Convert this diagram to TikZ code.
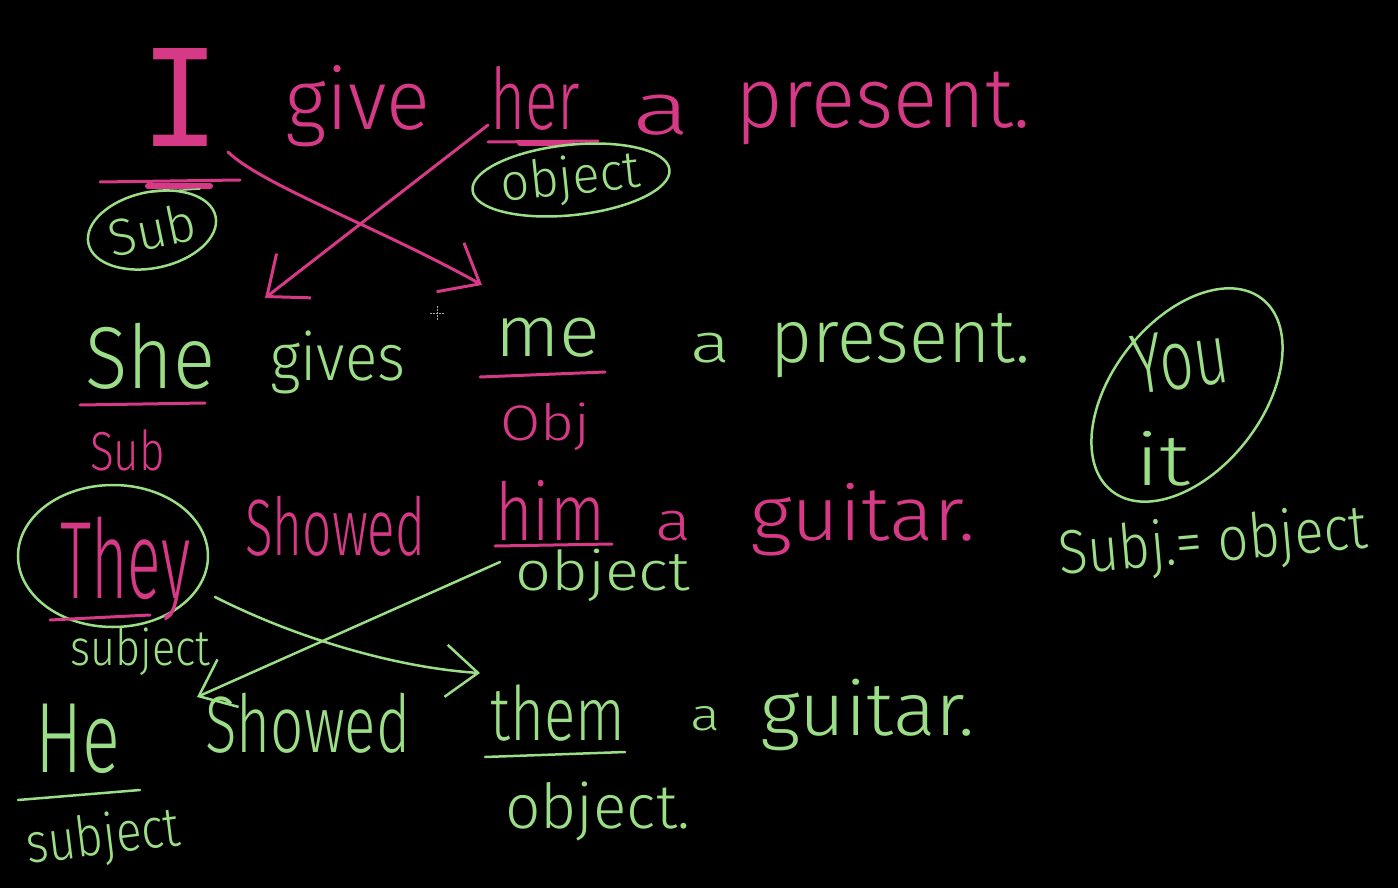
\documentclass[tikz,border=0pt]{standalone}
\usepackage{fontspec}
\setmainfont{Fira Sans Light}
\newfontfamily\monoI{Liberation Mono}
\usepackage{graphicx}
\usetikzlibrary{arrows.meta,shapes.geometric}
\definecolor{pinkc}{RGB}{214,58,134}
\definecolor{greenc}{RGB}{155,222,135}
\newcommand\hw[2]{\resizebox{#1pt}{\height}{#2}}
\begin{document}
\begin{tikzpicture}[x=1pt,y=-1pt,
  pk/.style={text=pinkc,inner sep=0pt,anchor=base west},
  gr/.style={text=greenc,inner sep=0pt,anchor=base west},
  sz/.style={font=\fontsize{#1}{#1}\selectfont},
  pline/.style={draw=pinkc,line width=3pt,line cap=round},
  gline/.style={draw=greenc,line width=2.5pt,line cap=round},
  ring/.style={ellipse,draw=greenc,line width=2.5pt,inner sep=0pt},
  ptip/.style={-{Straight Barb[length=34pt,width=56pt,line width=3pt]}},
  gtip/.style={-{Straight Barb[length=32pt,width=52pt,line width=2.5pt]}}
]
\fill[black] (0,0) rectangle (1398,888);
\useasboundingbox (0,0) rectangle (1398,888);

% ---------- line 1 (pink)
\node[pk,sz=120] (I) at (140,147) {\monoI\resizebox{80pt}{98pt}{I}};
\node[pk,sz=85] (give) at (285,130) {\hw{145}{give}};
\node[pk,sz=85] (her) at (490,130) {\hw{90}{her}};
\node[pk,sz=74] (a1) at (632,135) {\hw{58}{a}};
\node[pk,sz=85] (present1) at (735,128) {\hw{295}{present.}};
\draw[pline] (100,182) -- (240,180);
\draw[pline,line width=6pt] (148,186) -- (210,186);
\draw[gline,line width=1.5pt] (150,192) -- (200,189);
\draw[pline] (488,142) -- (598,141);
\draw[pline,line width=6pt] (520,143) -- (572,143);
\node[ring,minimum width=130pt,minimum height=76pt,rotate=12,text=greenc,sz=52] (sub1) at (152,230) {Sub};
\node[ring,minimum width=170pt,minimum height=66pt,rotate=6,text=greenc,sz=52] (obj1) at (571,180) {\hw{140}{object}};

% pink crossing arrows
\coordinate (pa1) at (228,152);
\coordinate (pa2) at (482,285);
\coordinate (pb1) at (488,125);
\coordinate (pb2) at (265,298);
\draw[pline,ptip] (pa1) .. controls (262,185) and (380,228) .. (pa2);
\draw[pline,ptip] (pb1) -- (pb2);

% cursor
\draw[gray!70,line width=1pt,dash pattern=on 1.5pt off 1.5pt] (430,313) -- (444,313) (437,306) -- (437,320);

% ---------- line 2 (green)
\node[gr,sz=88] (She) at (85,388) {\hw{130}{She}};
\node[gr,sz=66] (gives) at (270,380) {\hw{135}{gives}};
\node[gr,sz=72] (me) at (495,356) {\hw{105}{me}};
\node[gr,sz=55] (a2) at (690,362) {\hw{40}{a}};
\node[gr,sz=75] (present2) at (770,362) {\hw{260}{present.}};
\draw[pline] (80,405) -- (205,403);
\draw[pline] (480,377) -- (605,372);
\node[pk,sz=55] (sub2) at (90,470) {\hw{75}{Sub}};
\node[pk,sz=50] (obj2) at (500,440) {\hw{90}{Obj}};

% ---------- line 3 (pink)
\node[ring,minimum width=190pt,minimum height=142pt] (theyC) at (113,556) {};
\node[pk,sz=110] (They) at (60,598) {\hw{130}{They}};
\node[pk,sz=80] (Showed1) at (245,555) {\hw{180}{Showed}};
\node[pk,sz=80] (him) at (495,540) {\hw{110}{him}};
\draw[pline] (495,546) -- (612,544);
\node[pk,sz=55] (a3) at (655,540) {\hw{36}{a}};
\node[pk,sz=76] (guitar1) at (750,540) {\hw{225}{guitar.}};
\node[gr,sz=55] (object3) at (515,590) {\hw{175}{object}};
\draw[pline] (50,620) -- (150,615);
\node[gr,sz=50] (subject3) at (70,665) {\hw{140}{subject}};

% green crossing arrows
\coordinate (gc1) at (500,562);
\coordinate (gc2) at (197,697);
\coordinate (gd1) at (215,597);
\coordinate (gd2) at (480,673);
\draw[gline,gtip] (gc1) -- (gc2);
\draw[gline,gtip] (gd1) .. controls (300,640) and (400,668) .. (gd2);

% ---------- line 4 (green)
\node[gr,sz=100] (He) at (35,772) {\hw{85}{He}};
\draw[gline] (18,800) -- (140,790);
\node[gr,sz=56,rotate=7] (subject4) at (28,864) {\hw{155}{subject}};
\node[gr,sz=80] (Showed2) at (205,752) {\hw{205}{Showed}};
\node[gr,sz=75] (them) at (490,740) {\hw{135}{them}};
\draw[gline] (485,757) -- (625,752);
\node[gr,sz=62] (object4) at (505,828) {\hw{185}{object.}};
\node[gr,sz=45] (a4) at (690,730) {\hw{30}{a}};
\node[gr,sz=75] (guitar2) at (760,735) {\hw{215}{guitar.}};

% ---------- right side
\node[ring,minimum width=244pt,minimum height=150pt,rotate=52] (youC) at (1187,395) {};
\node[gr,sz=85,rotate=8] (you) at (1136,395) {\hw{96}{You}};
\node[gr,sz=72] (it) at (1135,485) {\hw{55}{it}};
\node[gr,sz=62,rotate=5] (subjobj) at (1060,575) {\hw{310}{Subj.= object}};
\end{tikzpicture}
\end{document}
